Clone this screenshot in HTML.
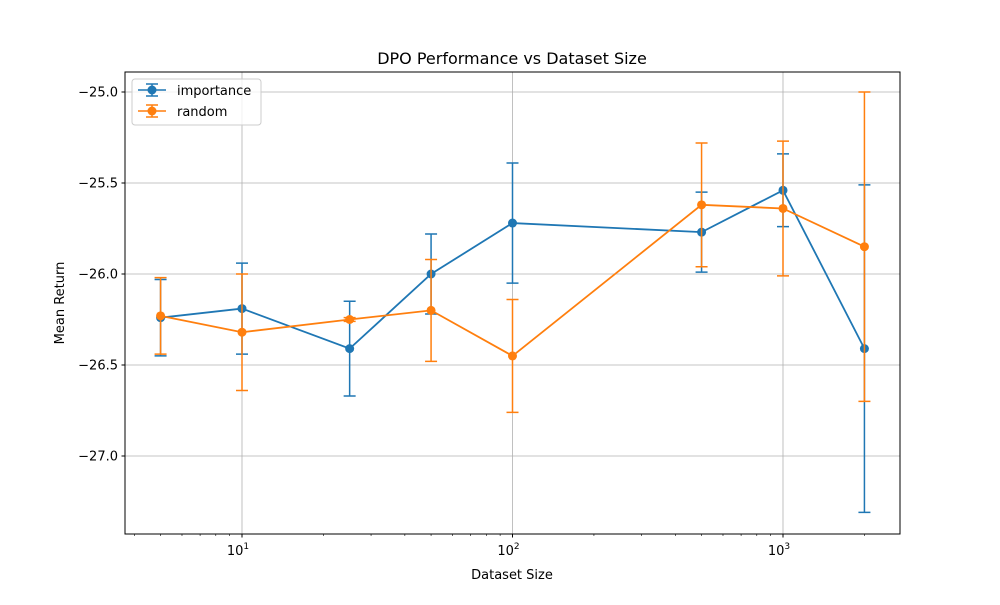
<!DOCTYPE html>
<html><head><meta charset="utf-8"><style>
body{margin:0;background:#fff}
svg text{font-family:"DejaVu Sans","Liberation Sans",sans-serif;fill:#000}
</style></head><body>
<svg id="chart" width="1000" height="600" viewBox="0 0 1000 600" xmlns="http://www.w3.org/2000/svg">
<rect width="1000" height="600" fill="#fff"/>
<g id="grid"></g>
<g id="series"></g>
<rect x="125" y="72" width="775" height="462" fill="none" stroke="#000" stroke-width="1"/>
<g id="axes"></g>
<text x="512" y="64" font-size="16" text-anchor="middle">DPO Performance vs Dataset Size</text>
<text x="512" y="579" font-size="13" text-anchor="middle">Dataset Size</text>
<text x="64" y="303" font-size="13" text-anchor="middle" transform="rotate(-90 64 303)">Mean Return</text>
<g>
<rect x="132" y="79" width="129" height="46" rx="3" fill="#fff" fill-opacity="0.8" stroke="#ccc"/>
<g>
<line x1="138" y1="90" x2="166" y2="90" stroke="#1f77b4" stroke-width="1.5"/>
<line x1="152" y1="84" x2="152" y2="96" stroke="#1f77b4" stroke-width="1.5"/>
<line x1="146" y1="84" x2="158" y2="84" stroke="#1f77b4" stroke-width="1.5"/>
<line x1="146" y1="96" x2="158" y2="96" stroke="#1f77b4" stroke-width="1.5"/>
<circle cx="152" cy="90" r="4.5" fill="#1f77b4"/>
<text x="177" y="95" font-size="13">importance</text></g>
<g>
<line x1="138" y1="111" x2="166" y2="111" stroke="#ff7f0e" stroke-width="1.5"/>
<line x1="152" y1="105" x2="152" y2="117" stroke="#ff7f0e" stroke-width="1.5"/>
<line x1="146" y1="105" x2="158" y2="105" stroke="#ff7f0e" stroke-width="1.5"/>
<line x1="146" y1="117" x2="158" y2="117" stroke="#ff7f0e" stroke-width="1.5"/>
<circle cx="152" cy="111" r="4.5" fill="#ff7f0e"/>
<text x="177" y="116" font-size="13">random</text></g>
</g>
</svg>
<script>
const sizes=[5,10,25,50,100,500,1000,2000];
const importanceMean=[-26.24,-26.19,-26.41,-26.00,-25.72,-25.77,-25.54,-26.41];
const importanceErr=[0.21,0.25,0.26,0.22,0.33,0.22,0.20,0.90];
const randomMean=[-26.23,-26.32,-26.25,-26.20,-26.45,-25.62,-25.64,-25.85];
const randomErr=[0.21,0.32,0.01,0.28,0.31,0.34,0.37,0.85];
const yTicks=[-25.0,-25.5,-26.0,-26.5,-27.0];
const xMajor=[10,100,1000];
const xMajorLabels=["1","2","3"];

const NS="http://www.w3.org/2000/svg";
const X=v=>242+(Math.log10(v)-1)*270.5;
const Y=v=>92+(-25-v)*182;
function mk(tag,attrs,parent){const e=document.createElementNS(NS,tag);for(const k in attrs)e.setAttribute(k,attrs[k]);parent.appendChild(e);return e;}
const grid=document.getElementById('grid'),axes=document.getElementById('axes'),ser=document.getElementById('series');

yTicks.forEach(t=>{
  const y=Y(t);
  const g=mk('line',{x1:125,x2:900,y1:y,y2:y,stroke:'#b0b0b0','stroke-width':0.8},grid);
  
  
  const tk=mk('line',{x1:121.5,x2:125,y1:y,y2:y,stroke:'#000'},axes);
  
  
  const tx=mk('text',{x:118,y:y+4.5,'font-size':13,'text-anchor':'end'},axes);
  
  
  tx.textContent='\u2212'+Math.abs(t).toFixed(1);
});
xMajor.forEach((t,i)=>{
  const x=X(t);
  const g=mk('line',{x1:x,x2:x,y1:72,y2:534,stroke:'#b0b0b0','stroke-width':0.8},grid);
  
  
  const tk=mk('line',{x1:x,x2:x,y1:534,y2:537.5,stroke:'#000'},axes);
  
  
  const tx=mk('text',{x:x-4,y:555,'font-size':13,'text-anchor':'middle'},axes);
  
  
  tx.textContent='10';
  const sp=mk('tspan',{dy:-6,'font-size':9},tx);sp.textContent=xMajorLabels[i];
});
[4,5,6,7,8,9,20,30,40,50,60,70,80,90,200,300,400,500,600,700,800,900,2000].forEach(t=>{
  const x=X(t);
  const tk=mk('line',{x1:x,x2:x,y1:534,y2:536,stroke:'#000','stroke-width':0.6},axes);
  
  
});

function drawSeries(name,means,errs,color){
  const g=mk('g',{},ser);
  
  
  sizes.forEach((s,i)=>{
    const x=X(s),y1=Y(means[i]+errs[i]),y2=Y(means[i]-errs[i]);
    const e=mk('path',{d:`M${x},${y1}V${y2}M${x-6},${y1}H${x+6}M${x-6},${y2}H${x+6}`,stroke:color,'stroke-width':1.5,fill:'none'},g);
    
    
  });
  const l=mk('polyline',{points:sizes.map((s,i)=>X(s)+','+Y(means[i])).join(' '),stroke:color,'stroke-width':1.8,fill:'none'},g);
  
  
  sizes.forEach((s,i)=>{
    const c=mk('circle',{cx:X(s),cy:Y(means[i]),r:4.5,fill:color},g);
    
    
  });
}
drawSeries('importance',importanceMean,importanceErr,'#1f77b4');
drawSeries('random',randomMean,randomErr,'#ff7f0e');
</script>
</body></html>
